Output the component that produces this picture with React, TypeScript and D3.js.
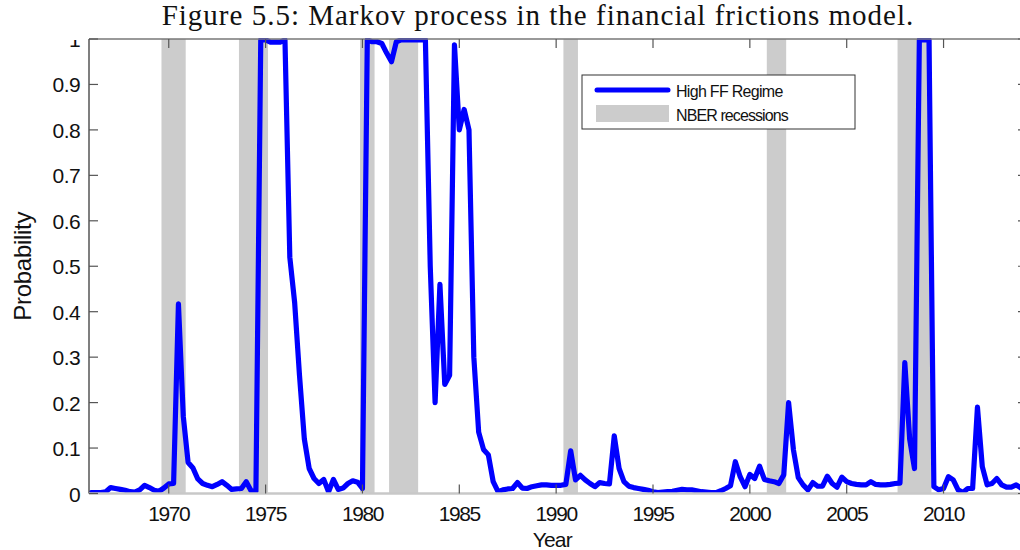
import React from "react";
import * as d3 from "d3";

// Quarterly probability of the high financial-frictions regime, starting 1966Q1
const startYear = 1966;
const probHighFF = [
  0.002, 0.002, 0.002, 0.004,
  0.013, 0.011, 0.009, 0.007,
  0.004, 0.003, 0.008, 0.018,
  0.013, 0.007, 0.005, 0.012,
  0.021, 0.022, 0.417, 0.17,
  0.068, 0.056, 0.032, 0.022,
  0.018, 0.015, 0.02, 0.026,
  0.018, 0.009, 0.01, 0.011,
  0.026, 0.006, 0.005, 0.998,
  0.998, 0.993, 0.993, 0.993,
  0.998, 0.52, 0.42, 0.26,
  0.12, 0.055, 0.033, 0.022,
  0.031, 0.004, 0.031, 0.009,
  0.012, 0.022, 0.028, 0.025,
  0.011, 0.998, 0.994, 0.994,
  0.99, 0.969, 0.95, 0.994,
  0.998, 0.998, 0.998, 0.998,
  0.998, 0.998, 0.5, 0.2,
  0.46, 0.24, 0.26, 0.987,
  0.8, 0.845, 0.8, 0.3,
  0.135, 0.097, 0.085, 0.026,
  0.004, 0.008, 0.01, 0.011,
  0.024, 0.012, 0.011, 0.015,
  0.017, 0.019, 0.019, 0.018,
  0.018, 0.018, 0.02, 0.094,
  0.03, 0.04, 0.03, 0.022,
  0.015, 0.024, 0.022, 0.021,
  0.127, 0.055, 0.026, 0.016,
  0.013, 0.011, 0.009, 0.007,
  0.004, 0.002, 0.003, 0.004,
  0.005, 0.007, 0.009, 0.008,
  0.008, 0.006, 0.004, 0.003,
  0.002, 0.002, 0.006, 0.011,
  0.017, 0.07, 0.037, 0.015,
  0.042, 0.033, 0.06, 0.031,
  0.028, 0.026, 0.022, 0.041,
  0.2, 0.096, 0.035, 0.019,
  0.008, 0.024, 0.016, 0.016,
  0.038, 0.022, 0.014, 0.036,
  0.026, 0.022, 0.02, 0.019,
  0.019, 0.026, 0.02, 0.019,
  0.019, 0.02, 0.022, 0.023,
  0.288, 0.12, 0.055, 0.998,
  0.998, 0.998, 0.015, 0.008,
  0.011, 0.037, 0.03, 0.008,
  0.002, 0.011, 0.011, 0.19,
  0.059, 0.019, 0.022, 0.033,
  0.019, 0.014, 0.014, 0.019,
  0.012,
];

// NBER recessions (first and last quarter, as year + (q-1)/4)
const recessionStart = [1969.75, 1973.75, 1980.0, 1981.5, 1990.5, 2001.0, 2007.75];
const recessionEnd = [1970.75, 1975.0, 1980.5, 1982.75, 1991.0, 2001.75, 2009.25];

const xTicks = [1970, 1975, 1980, 1985, 1990, 1995, 2000, 2005, 2010];
const yTicks = [0, 0.1, 0.2, 0.3, 0.4, 0.5, 0.6, 0.7, 0.8, 0.9, 1];
const yTickLabels = ["0", "0.1", "0.2", "0.3", "0.4", "0.5", "0.6", "0.7", "0.8", "0.9", "1"];

const titleText = "Figure 5.5: Markov process in the financial frictions model.";
const legendLabels = ["High FF Regime", "NBER recessions"];

const W = 1020;
const H = 550;
const L = 89;
const R = 1027;
const T = 39;
const B = 493.5;

export default function App() {
  const x = d3.scaleLinear().domain([1965.883, 2014.308]).range([L, R]);
  const y = d3.scaleLinear().domain([0, 1]).range([B, T]);
  const pts = probHighFF.map((v, i) => [startYear + i / 4, v] as [number, number]);
  const line = d3
    .line<[number, number]>()
    .x((d) => x(d[0]))
    .y((d) => y(d[1]));
  const sans = "'Liberation Sans', Arial, sans-serif";
  const tickLen = 9;
  const axisColor = "#555";
  return (
    <svg
      width={W}
      height={H}
      style={{ position: "absolute", left: 0, top: 0, background: "#fff" }}
    >
      <defs>
        <clipPath id="plotclip">
          <rect x={L} y={T - 1} width={R - L} height={B - T + 1} />
        </clipPath>
      </defs>
      <rect x={0} y={0} width={W} height={H} fill="#fff" />
      {recessionStart.map((s, i) => (
        <rect
          key={"rec" + i}
          x={x(s - 0.125)}
          y={T}
          width={x(recessionEnd[i] + 0.125) - x(s - 0.125)}
          height={B - T}
          fill="#cccccc"
        />
      ))}
      <path
        d={line(pts) || ""}
        fill="none"
        stroke="#0000ff"
        strokeWidth={5.2}
        strokeLinejoin="round"
        strokeLinecap="round"
        clipPath="url(#plotclip)"
      />
      {/* axes box */}
      <line x1={L} y1={T} x2={R} y2={T} stroke="#777" strokeWidth={1.5} />
      <line x1={L} y1={T} x2={L} y2={B} stroke={axisColor} strokeWidth={1.5} />
      <line x1={L} y1={B} x2={R} y2={B} stroke="#c8c8c8" strokeWidth={2.5} />
      <line x1={R} y1={T} x2={R} y2={B} stroke={axisColor} strokeWidth={1.5} />
      {xTicks.map((t) => (
        <g key={"xt" + t}>
          <line x1={x(t)} y1={B} x2={x(t)} y2={B - tickLen} stroke={axisColor} strokeWidth={1.2} />
          <line x1={x(t)} y1={T} x2={x(t)} y2={T + tickLen} stroke={axisColor} strokeWidth={1.2} />
          <text
            x={x(t)}
            y={521}
            textAnchor="middle"
            fontFamily={sans}
            fontSize={21}
            letterSpacing={-1.4}
            fill="#111"
          >
            {String(t)}
          </text>
        </g>
      ))}
      {yTicks.map((v, i) => (
        <g key={"yt" + i}>
          <line x1={L} y1={y(v)} x2={L + tickLen} y2={y(v)} stroke={axisColor} strokeWidth={1.2} />
          <line x1={R} y1={y(v)} x2={R - tickLen} y2={y(v)} stroke={axisColor} strokeWidth={1.2} />
          <text
            x={80}
            y={y(v) + 8}
            textAnchor="end"
            fontFamily={sans}
            fontSize={21}
            letterSpacing={-0.6}
            fill="#111"
          >
            {yTickLabels[i]}
          </text>
        </g>
      ))}
      <text
        transform={`translate(31, ${(T + B) / 2}) rotate(-90)`}
        textAnchor="middle"
        fontFamily={sans}
        fontSize={24}
        letterSpacing={-0.3}
        fill="#111"
      >
        Probability
      </text>
      <text
        x={x(1989.8)}
        y={547}
        textAnchor="middle"
        fontFamily={sans}
        fontSize={21}
        letterSpacing={-0.8}
        fill="#111"
      >
        Year
      </text>
      {/* legend */}
      <rect x={582} y={75} width={273} height={54} fill="#fff" stroke="#333" strokeWidth={1} />
      <line x1={597} y1={90} x2={668} y2={90} stroke="#0000ff" strokeWidth={5} strokeLinecap="round" />
      <rect x={596} y={105} width={73} height={17} fill="#cccccc" />
      <text x={676} y={97} fontFamily={sans} fontSize={16} letterSpacing={-0.7} fill="#111">
        {legendLabels[0]}
      </text>
      <text x={676} y={121} fontFamily={sans} fontSize={16} letterSpacing={-0.9} fill="#111">
        {legendLabels[1]}
      </text>
      {/* title band (partly hides the top tick label, as in the original) */}
      <rect x={0} y={0} width={W} height={37.5} fill="#fff" />
      <rect x={0} y={0} width={86} height={40} fill="#fff" />
      <text
        x={538}
        y={25}
        textAnchor="middle"
        fontFamily="'Liberation Serif', 'Times New Roman', serif"
        fontSize={29}
        letterSpacing={1}
        fill="#111"
      >
        {titleText}
      </text>
    </svg>
  );
}
